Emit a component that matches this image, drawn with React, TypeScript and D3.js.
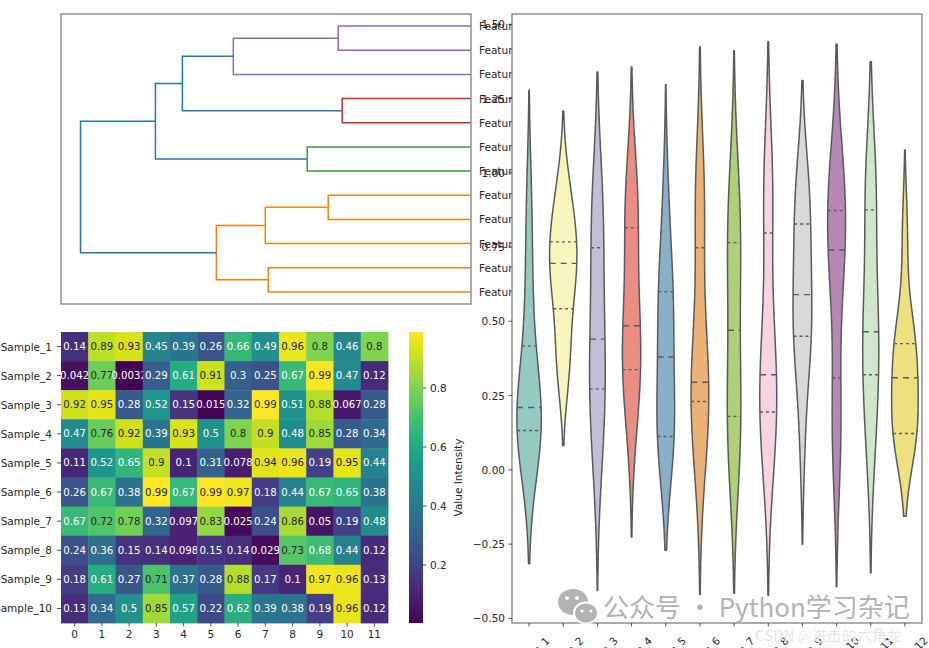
import React from 'react';
import * as d3 from 'd3';

// heatmap rows (samples) x columns (features 0..11)
const sampleNames = ['Sample_1', 'Sample_2', 'Sample_3', 'Sample_4', 'Sample_5', 'Sample_6', 'Sample_7', 'Sample_8', 'Sample_9', 'Sample_10'];
const columnTicks = ['0', '1', '2', '3', '4', '5', '6', '7', '8', '9', '10', '11'];
const featureNames = ['Feature_1', 'Feature_2', 'Feature_3', 'Feature_4', 'Feature_5', 'Feature_6', 'Feature_7', 'Feature_8', 'Feature_9', 'Feature_10', 'Feature_11', 'Feature_12'];

const values: number[][] = [
  [0.14, 0.89, 0.93, 0.45, 0.39, 0.26, 0.66, 0.49, 0.96, 0.8, 0.46, 0.8],
  [0.042, 0.77, 0.0032, 0.29, 0.61, 0.91, 0.3, 0.25, 0.67, 0.99, 0.47, 0.12],
  [0.92, 0.95, 0.28, 0.52, 0.15, 0.015, 0.32, 0.99, 0.51, 0.88, 0.067, 0.28],
  [0.47, 0.76, 0.92, 0.39, 0.93, 0.5, 0.8, 0.9, 0.48, 0.85, 0.28, 0.34],
  [0.11, 0.52, 0.65, 0.9, 0.1, 0.31, 0.078, 0.94, 0.96, 0.19, 0.95, 0.44],
  [0.26, 0.67, 0.38, 0.99, 0.67, 0.99, 0.97, 0.18, 0.44, 0.67, 0.65, 0.38],
  [0.67, 0.72, 0.78, 0.32, 0.097, 0.83, 0.025, 0.24, 0.86, 0.05, 0.19, 0.48],
  [0.24, 0.36, 0.15, 0.14, 0.098, 0.15, 0.14, 0.029, 0.73, 0.68, 0.44, 0.12],
  [0.18, 0.61, 0.27, 0.71, 0.37, 0.28, 0.88, 0.17, 0.1, 0.97, 0.96, 0.13],
  [0.13, 0.34, 0.5, 0.85, 0.57, 0.22, 0.62, 0.39, 0.38, 0.19, 0.96, 0.12],
];

// dendrogram leaves, bottom to top, and linkage rows [a, b, distance]
const leafLabels = ['Feature_3', 'Feature_12', 'Feature_6', 'Feature_1', 'Feature_8', 'Feature_4', 'Feature_9', 'Feature_2', 'Feature_11', 'Feature_5', 'Feature_7', 'Feature_10'];
const linkage: [number, number, number][] = [
  [0, 1, 2.03],
  [3, 4, 1.43],
  [2, 13, 2.06],
  [12, 14, 2.55],
  [5, 6, 1.64],
  [7, 8, 1.29],
  [10, 11, 1.33],
  [9, 18, 2.38],
  [17, 19, 2.89],
  [16, 20, 3.16],
  [15, 21, 3.91],
];

const set3 = ['#8dd3c7', '#ffffb3', '#bebada', '#fb8072', '#80b1d3', '#fdb462', '#b3de69', '#fccde5', '#d9d9d9', '#bc80bd', '#ccebc5', '#ffed6f'];
const clusterColors = ['#ff7f0e', '#2ca02c', '#d62728', '#9467bd', '#8c564b'];
const aboveColor = '#1f77b4';

const FONT = 'DejaVu Sans, sans-serif';
const TXT = '#262626';
const SPINE = '#808080';

const luminance = (c: string) => {
  const rgb = d3.rgb(c);
  const lin = [rgb.r, rgb.g, rgb.b].map((v) => {
    const s = v / 255;
    return s <= 0.03928 ? s / 12.92 : Math.pow((s + 0.055) / 1.055, 2.4);
  });
  return 0.2126 * lin[0] + 0.7152 * lin[1] + 0.0722 * lin[2];
};

const Dendrogram: React.FC = () => {
  const left = 61, right = 471, top = 14, bottom = 304;
  const n = leafLabels.length;
  const pos: number[] = d3.range(n).map((j) => 5 + 10 * j);
  const height: number[] = new Array(n).fill(0);
  const parent: number[] = [];
  linkage.forEach(([a, b, h], k) => {
    const id = n + k;
    pos[id] = (pos[a] + pos[b]) / 2;
    height[id] = h;
    parent[a] = id;
    parent[b] = id;
  });
  const maxH = d3.max(linkage, (d) => d[2]) as number;
  const thr = 0.7 * maxH;
  const x = d3.scaleLinear().domain([0, maxH * 1.05]).range([right, left]);
  const y = d3.scaleLinear().domain([0, 10 * n]).range([bottom, top]);

  const roots = linkage
    .map((_, k) => n + k)
    .filter((id) => height[id] < thr && (parent[id] === undefined || height[parent[id]] >= thr))
    .sort((a, b) => pos[a] - pos[b]);
  const colorOf = (id: number) => {
    if (height[id] >= thr) return aboveColor;
    let c = id;
    while (!roots.includes(c)) c = parent[c];
    return clusterColors[roots.indexOf(c) % clusterColors.length];
  };

  return (
    <g>
      <rect x={left} y={top} width={right - left} height={bottom - top} fill="white" />
      {linkage.map(([a, b, h], k) => (
        <path
          key={k}
          d={`M${x(height[a])},${y(pos[a])}H${x(h)}V${y(pos[b])}H${x(height[b])}`}
          fill="none"
          stroke={colorOf(n + k)}
          strokeWidth={1.5}
        />
      ))}
      <rect x={left} y={top} width={right - left} height={bottom - top} fill="none" stroke={SPINE} strokeWidth={1.3} />
      {leafLabels.map((lab, j) => (
        <text key={lab} x={right + 8} y={y(pos[j])} dominantBaseline="central" fontSize={10.5} fill={TXT} fontFamily={FONT}>
          {lab}
        </text>
      ))}
    </g>
  );
};

const Heatmap: React.FC = () => {
  const left = 61, right = 388, top = 332, bottom = 623;
  const flat = values.flat();
  const vmin = d3.min(flat) as number, vmax = d3.max(flat) as number;
  const color = d3.scaleSequential(d3.interpolateViridis).domain([vmin, vmax]);
  const x = d3.scaleBand<number>().domain(d3.range(columnTicks.length)).range([left, right]);
  const y = d3.scaleBand<number>().domain(d3.range(sampleNames.length)).range([top, bottom]);
  const fmt = d3.format('.2~g');

  const cbL = 409, cbR = 423;
  const cy = d3.scaleLinear().domain([vmin, vmax]).range([bottom, top]);
  const stops = d3.range(0, 1.0001, 0.05);

  return (
    <g fontFamily={FONT}>
      {values.map((row, r) =>
        row.map((v, c) => {
          const fill = color(v);
          return (
            <g key={`${r}-${c}`}>
              <rect x={x(c)} y={y(r)} width={x.bandwidth() + 0.4} height={y.bandwidth() + 0.4} fill={fill} />
              <text
                x={(x(c) as number) + x.bandwidth() / 2}
                y={(y(r) as number) + y.bandwidth() / 2}
                textAnchor="middle"
                dominantBaseline="central"
                fontSize={10.2}
                fill={luminance(fill) > 0.408 ? '#262626' : 'white'}
              >
                {fmt(v)}
              </text>
            </g>
          );
        })
      )}
      {sampleNames.map((s, r) => {
        const yy = (y(r) as number) + y.bandwidth() / 2;
        return (
          <g key={s}>
            <line x1={left - 4} x2={left} y1={yy} y2={yy} stroke={TXT} strokeWidth={0.8} />
            <text x={left - 9} y={yy} textAnchor="end" dominantBaseline="central" fontSize={10.5} fill={TXT}>
              {s}
            </text>
          </g>
        );
      })}
      {columnTicks.map((t, c) => {
        const xx = (x(c) as number) + x.bandwidth() / 2;
        return (
          <g key={t}>
            <line x1={xx} x2={xx} y1={bottom} y2={bottom + 3.5} stroke={TXT} strokeWidth={0.8} />
            <text x={xx} y={bottom + 7} textAnchor="middle" dominantBaseline="hanging" fontSize={10.5} fill={TXT}>
              {t}
            </text>
          </g>
        );
      })}
      <defs>
        <linearGradient id="viridisBar" x1="0" y1="1" x2="0" y2="0">
          {stops.map((s) => (
            <stop key={s} offset={s} stopColor={d3.interpolateViridis(s)} />
          ))}
        </linearGradient>
      </defs>
      <rect x={cbL} y={top} width={cbR - cbL} height={bottom - top} fill="url(#viridisBar)" />
      {[0.2, 0.4, 0.6, 0.8].map((t) => (
        <g key={t}>
          <line x1={cbR} x2={cbR + 3.5} y1={cy(t)} y2={cy(t)} stroke={TXT} strokeWidth={0.8} />
          <text x={cbR + 7} y={cy(t)} dominantBaseline="central" fontSize={10.5} fill={TXT}>
            {t.toFixed(1)}
          </text>
        </g>
      ))}
      <text
        transform={`translate(458,${(top + bottom) / 2}) rotate(-90)`}
        textAnchor="middle"
        dominantBaseline="central"
        fontSize={10.5}
        fill={TXT}
      >
        Value Intensity
      </text>
    </g>
  );
};

const Violins: React.FC = () => {
  const left = 512, right = 922, top = 14, bottom = 623;
  const k = featureNames.length;
  const cols = d3.range(k).map((c) => values.map((row) => row[c]));

  const kdes = cols.map((vals) => {
    const nn = vals.length;
    const bw = (d3.deviation(vals) as number) * Math.pow(nn, -1 / 5);
    const lo = (d3.min(vals) as number) - 2 * bw;
    const hi = (d3.max(vals) as number) + 2 * bw;
    const dens = (t: number) =>
      (d3.mean(vals, (v) => Math.exp(-0.5 * ((t - v) / bw) ** 2)) as number) / (bw * Math.sqrt(2 * Math.PI));
    const grid = d3.range(100).map((i) => {
      const t = lo + ((hi - lo) * i) / 99;
      return [t, dens(t)] as [number, number];
    });
    const sorted = vals.slice().sort(d3.ascending);
    const qs = [0.25, 0.5, 0.75].map((p) => d3.quantileSorted(sorted, p) as number);
    return { grid, dens, qs, lo, hi };
  });

  const lo = d3.min(kdes, (d) => d.lo) as number;
  const hi = d3.max(kdes, (d) => d.hi) as number;
  const pad = (hi - lo) * 0.05;
  const y = d3.scaleLinear().domain([lo - pad, hi + pad]).range([bottom, top]);
  const x = d3.scaleLinear().domain([-0.5, k - 0.5]).range([left, right]);
  const maxD = d3.max(kdes, (d) => d3.max(d.grid, (g) => g[1])) as number;
  const halfW = x(0.4) - x(0);
  const w = (dv: number) => (dv / maxD) * halfW;
  const lineColor = '#5a5a5a';
  const fmt = d3.format('.2f');
  const yTicks = d3.range(-0.5, 1.5001, 0.25);

  return (
    <g fontFamily={FONT}>
      <rect x={left} y={top} width={right - left} height={bottom - top} fill="white" />
      {kdes.map((kd, c) => {
        const cx = x(c);
        const hsl = d3.hsl(set3[c]);
        hsl.s *= 0.75;
        const area = d3
          .area<[number, number]>()
          .x0((d) => cx - w(d[1]))
          .x1((d) => cx + w(d[1]))
          .y((d) => y(d[0]));
        return (
          <g key={c}>
            <path d={area(kd.grid) as string} fill={hsl.formatHex()} stroke={lineColor} strokeWidth={1.5} strokeLinejoin="round" />
            {kd.qs.map((q, i) => {
              const hw = w(kd.dens(q));
              return (
                <line
                  key={i}
                  x1={cx - hw}
                  x2={cx + hw}
                  y1={y(q)}
                  y2={y(q)}
                  stroke={lineColor}
                  strokeWidth={1.4}
                  strokeDasharray={i === 1 ? '6,5' : '3,3'}
                />
              );
            })}
          </g>
        );
      })}
      <rect x={left} y={top} width={right - left} height={bottom - top} fill="none" stroke={SPINE} strokeWidth={1.3} />
      {yTicks.map((t) => (
        <g key={t}>
          <line x1={left - 3.5} x2={left} y1={y(t)} y2={y(t)} stroke={TXT} strokeWidth={0.8} />
          <text x={left - 7} y={y(t)} textAnchor="end" dominantBaseline="central" fontSize={10.5} fill={TXT}>
            {fmt(t)}
          </text>
        </g>
      ))}
      {featureNames.map((f, c) => {
        const xx = x(c);
        const L = f.length * 5.85;
        const bb = (L + 12.3) * Math.SQRT1_2;
        return (
          <g key={f}>
            <line x1={xx} x2={xx} y1={bottom} y2={bottom + 3.5} stroke={TXT} strokeWidth={0.8} />
            <text
              transform={`translate(${xx},${bottom + 11 + bb / 2}) rotate(-45)`}
              textAnchor="middle"
              dominantBaseline="central"
              fontSize={10.5}
              fill={TXT}
            >
              {f}
            </text>
          </g>
        );
      })}
    </g>
  );
};

const Watermark: React.FC = () => (
  <g>
    <g fill="#a6a6a6" opacity={0.85}>
      <ellipse cx={573} cy={602} rx={15} ry={13} />
      <ellipse cx={586} cy={613} rx={12} ry={10.5} stroke="white" strokeWidth={2} />
      <circle cx={567} cy={598} r={2} fill="white" />
      <circle cx={577} cy={598} r={2} fill="white" />
      <circle cx={582} cy={611} r={1.6} fill="white" />
      <circle cx={591} cy={611} r={1.6} fill="white" />
    </g>
    <text x={603} y={617} fontSize={26} fill="#a6a6a6" opacity={0.85} fontFamily="Noto Sans CJK SC, sans-serif">
      公众号 · Python学习杂记
    </text>
    <text x={755} y={641} fontSize={15} fill="#c4c4c4" stroke="white" strokeWidth={0.6} fontFamily="Noto Sans CJK SC, sans-serif">
      CSDN @进击的六角龙
    </text>
  </g>
);

const App: React.FC = () => (
  <svg width={929} height={648} style={{ position: 'absolute', left: 0, top: 0, background: 'white' }}>
    <Dendrogram />
    <Heatmap />
    <Violins />
    <Watermark />
  </svg>
);

export default App;
